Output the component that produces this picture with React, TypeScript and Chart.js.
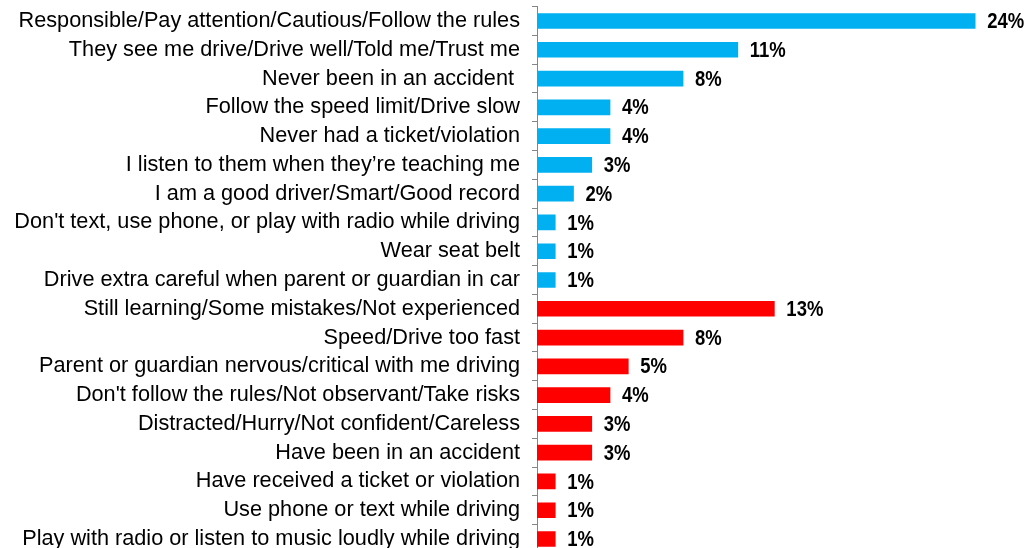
import React, { useEffect, useRef } from "react";
import { Chart, registerables } from "chart.js";

Chart.register(...registerables);

const categories: string[] = [
  "Responsible/Pay attention/Cautious/Follow the rules",
  "They see me drive/Drive well/Told me/Trust me",
  "Never been in an accident ",
  "Follow the speed limit/Drive slow",
  "Never had a ticket/violation",
  "I listen to them when they\u2019re teaching me",
  "I am a good driver/Smart/Good record",
  "Don't text, use phone, or play with radio while driving",
  "Wear seat belt",
  "Drive extra careful when parent or guardian in car",
  "Still learning/Some mistakes/Not experienced",
  "Speed/Drive too fast",
  "Parent or guardian nervous/critical with me driving",
  "Don't follow the rules/Not observant/Take risks",
  "Distracted/Hurry/Not confident/Careless",
  "Have been in an accident",
  "Have received a ticket or violation",
  "Use phone or text while driving",
  "Play with radio or listen to music loudly while driving",
];

const values: number[] = [24, 11, 8, 4, 4, 3, 2, 1, 1, 1, 13, 8, 5, 4, 3, 3, 1, 1, 1];
const positiveCount = 10;
const BLUE = "#00B0F0";
const RED = "#FF0000";
const FONT = "'Liberation Sans', Arial, sans-serif";

export default function App() {
  const ref = useRef<HTMLCanvasElement | null>(null);

  useEffect(() => {
    document.body.style.margin = "0";
    const canvas = ref.current;
    if (!canvas) return;
    const colors = values.map((_, i) => (i < positiveCount ? BLUE : RED));

    const valueLabels = {
      id: "valueLabels",
      afterDatasetsDraw(chart: any) {
        const ctx = chart.ctx;
        const meta = chart.getDatasetMeta(0);
        const sx = 0.84;
        meta.data.forEach((bar: any, i: number) => {
          ctx.save();
          ctx.translate(bar.x + 12, bar.y + 1);
          ctx.scale(sx, 1);
          ctx.font = `bold 22px ${FONT}`;
          ctx.fillStyle = "#000";
          ctx.textAlign = "left";
          ctx.textBaseline = "middle";
          ctx.fillText(values[i] + "%", 0, 0);
          ctx.restore();
        });
      },
    };

    const chart = new Chart(canvas, {
      type: "bar",
      data: {
        labels: categories,
        datasets: [
          {
            data: values,
            backgroundColor: colors,
            borderWidth: 0,
            barThickness: 15,
          },
        ],
      },
      options: {
        indexAxis: "y",
        animation: false,
        responsive: false,
        maintainAspectRatio: false,
        layout: { padding: { top: 6.6, bottom: 6.6, left: 0, right: 16.3 } },
        plugins: {
          legend: { display: false },
          tooltip: { enabled: false },
        },
        scales: {
          x: {
            display: false,
            min: 0,
            max: 26,
          },
          y: {
            afterFit: (scale: any) => {
              scale.width = 537;
              scale.paddingTop = 0;
              scale.paddingBottom = 0;
            },
            grid: {
              display: true,
              drawOnChartArea: false,
              drawTicks: true,
              tickLength: 5,
              color: "#868686",
              offset: true,
            },
            border: { display: true, color: "#868686", width: 1 },
            ticks: {
              padding: 12,
              color: "#000",
              font: { family: FONT, size: 21.7 },
              autoSkip: false,
            },
          },
        },
      },
      plugins: [valueLabels],
    });
    return () => chart.destroy();
  }, []);

  return (
    <div style={{ position: "fixed", left: 0, top: 0, width: 1028, height: 560 }}>
      <canvas ref={ref} width={1028} height={560} style={{ width: 1028, height: 560 }} />
    </div>
  );
}
